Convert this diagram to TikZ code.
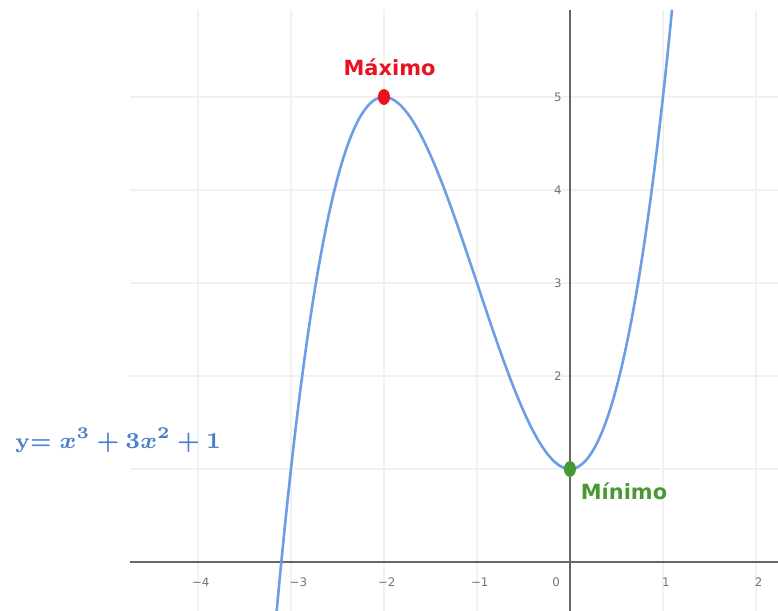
\documentclass[tikz,border=0pt]{standalone}
\usepackage{amsmath}
\usepackage{bm}
\usepackage{fontspec}
\setsansfont{DejaVu Sans}
\usepackage{tikz}
\usetikzlibrary{positioning,shapes.geometric}
\definecolor{curvaAzul}{RGB}{108,158,230}
\definecolor{ecuAzul}{RGB}{72,128,205}
\definecolor{maxRojo}{RGB}{232,18,32}
\definecolor{minVerde}{RGB}{72,152,52}
\tikzset{
  graphGrid/.style={draw=gray!11, line width=0.35pt},
  graphAxis/.style={draw=gray!80!black, line width=0.5pt},
  graphCurve/.style={draw=curvaAzul, line width=0.8pt},
  graphTick/.style={font=\sffamily\fontsize{3.6}{4}\selectfont, text=gray!90!black, inner sep=0pt},
  graphDot/.style={ellipse, inner sep=0pt, minimum width=1.3mm, minimum height=1.7mm},
  graphLabel/.style={font=\sffamily\bfseries\fontsize{6.4}{7}\selectfont, inner sep=0pt},
  graphEq/.style={font=\fontsize{6.55}{8}\selectfont, text=ecuAzul, inner sep=0pt}
}

\begin{document}
\begin{tikzpicture}[x=1cm, y=1cm]
      \useasboundingbox (-6.129,-0.527) rectangle (2.237,6.043);
      % grid
      \foreach \gx in {-4,...,2} \draw[graphGrid] (\gx,-0.527) -- (\gx,5.935);
      \foreach \gy in {1,...,5} \draw[graphGrid] (-4.73,\gy) -- (2.237,\gy);
      % axes
      \draw[graphAxis] (-4.73,0) -- (2.237,0);
      \draw[graphAxis] (0,-0.527) -- (0,5.935);
      % tick labels
      \foreach \tx/\lab in {-4/−4,-2/−2,-1/−1,1/1,2/2}
        \node[graphTick] (tx\tx) at (\tx+0.03,-0.215) {\lab};
      \node[graphTick] (txm3) at (-2.92,-0.215) {−3};
      \node[graphTick] (tx0) at (-0.15,-0.215) {0};
      \foreach \ty in {2,...,5}
        \node[graphTick] (ty\ty) at (-0.13,\ty) {\ty};
      % curve
      \draw[graphCurve] plot[domain=-3.156:1.098, samples=150, smooth] (\x,{\x*\x*\x+3*\x*\x+1});
      % extremes
      \node[graphDot, fill=maxRojo] (maxPunto) at (-2,5) {};
      \node[graphDot, fill=minVerde] (minPunto) at (0,1) {};
      \node[graphLabel, text=maxRojo, above=1.3mm of maxPunto, xshift=0.6mm] (maxTexto) {Máximo};
      \node[graphLabel, text=minVerde, below right=0.8mm and 0.6mm of minPunto] (minTexto) {Mínimo};
      % equation
      \node[graphEq, anchor=west] (ecuacion) at (-5.97,1.31) {\textbf{y=} $\boldsymbol{x^3+3x^2+1}$};
    \end{tikzpicture}
\end{document}
